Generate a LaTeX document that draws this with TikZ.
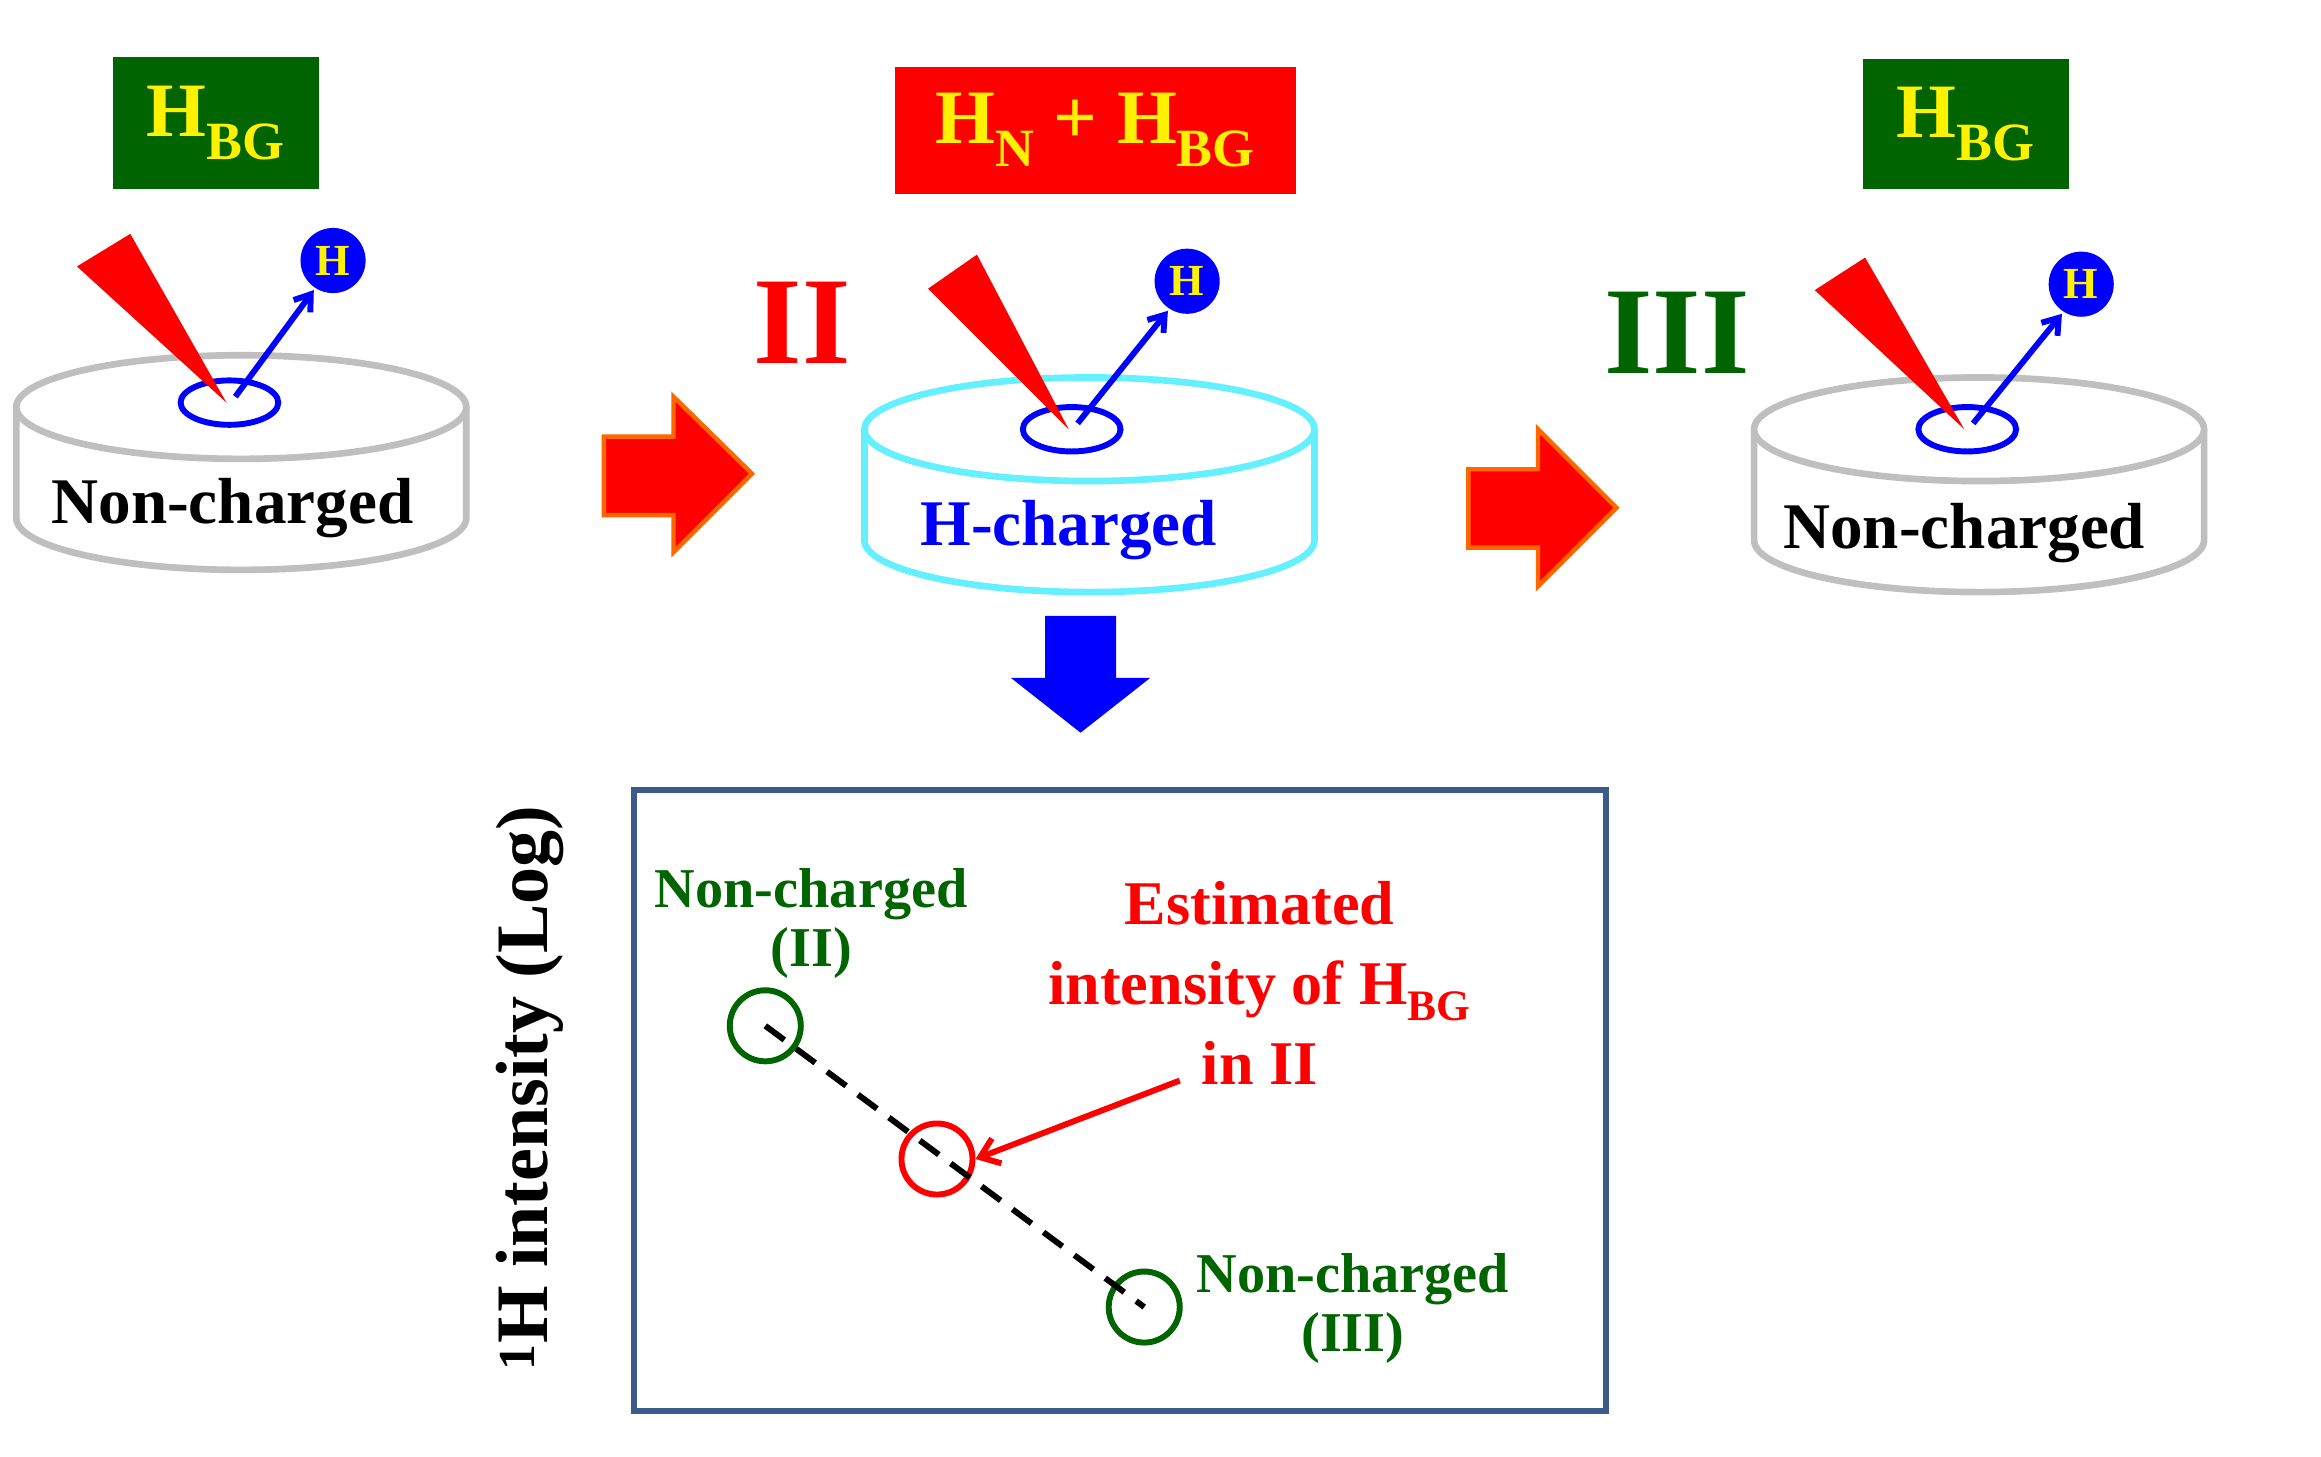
\documentclass[tikz,border=0pt]{standalone}
\usetikzlibrary{arrows.meta}
\usepackage{fontspec}
\setmainfont{Liberation Serif}
\begin{document}
\begin{tikzpicture}[x=1pt,y=-1pt,
 txt/.style={font=\fontsize{44}{46}\selectfont\bfseries,inner sep=0pt},
 ltxt/.style={font=\fontsize{38}{40}\selectfont\bfseries,inner sep=0pt},
 tag/.style={font=\fontsize{52}{54}\selectfont\bfseries,text=yellow,inner sep=0pt},
 hc/.style={circle,fill=blue,minimum size=44pt,inner sep=0pt,text=yellow,font=\fontsize{30}{30}\selectfont\bfseries},
 fat/.style={fill=red,draw=orange!80!red,line width=3pt}]
\useasboundingbox (0,0) rectangle (1568,984);
\definecolor{dg}{RGB}{0,100,0}
\definecolor{bx}{RGB}{60,90,140}
\definecolor{cy}{RGB}{100,240,255}
% tags
\node[fill=dg,minimum width=139pt,minimum height=89pt,tag] (t1) at (146,83) {H\textsubscript{BG}};
\node[fill=red,minimum width=271pt,minimum height=86pt,tag] (t2) at (740,88) {H\textsubscript{N} + H\textsubscript{BG}};
\node[fill=dg,minimum width=139pt,minimum height=88pt,tag] (t3) at (1328,84) {H\textsubscript{BG}};
% disks
\foreach \cx/\ty/\col in {163/275/gray!50, 736/290/cy, 1337/290/gray!50}{
 \draw[\col,line width=4.5pt,fill=white] (\cx-152,\ty) -- (\cx-152,\ty+75) arc[start angle=180,end angle=0,x radius=152,y radius=35] -- (\cx+152,\ty);
 \draw[\col,line width=4.5pt,fill=white] (\cx,\ty) ellipse[x radius=152,y radius=35];
}
\node[txt] (d1) at (157,343) {Non-charged};
\node[txt,text=blue] (d2) at (722,358) {H-charged};
\node[txt] (d3) at (1327,360) {Non-charged};
% beams and H
\foreach \tx/\ty/\ax/\ay/\bx/\by/\hx/\hy in {153/272/52/180/88/158/225/176, 722/290/627/195/660/172/802/190, 1327/290/1226/196/1260/174/1406/192}{
 \draw[blue,line width=4pt] (\tx+2,\ty) ellipse[x radius=33,y radius=15];
 \fill[red] (\tx,\ty) -- (\ax,\ay) -- (\bx,\by) -- cycle;
 \draw[blue,line width=4pt,-{Straight Barb[length=10pt,width=14pt]}] (\tx+6,\ty-4) -- (\hx-13,\hy+20);
 \node[hc] at (\hx,\hy) {H};
}
\node[font=\fontsize{84}{84}\selectfont\bfseries,text=red] (r2) at (542,218) {II};
\node[font=\fontsize{84}{84}\selectfont\bfseries,text=dg] (r3) at (1133,225) {III};
% fat arrows
\draw[fat] (408,295) -- (455,295) -- (455,268) -- (508,320) -- (455,373) -- (455,348) -- (408,348) -- cycle;
\draw[fat] (992,317) -- (1039,317) -- (1039,290) -- (1092,343) -- (1039,396) -- (1039,370) -- (992,370) -- cycle;
\fill[blue] (706,416) -- (754,416) -- (754,458) -- (777,458) -- (730,495) -- (683,458) -- (706,458) -- cycle;
% plot
\draw[bx,line width=4pt] (428,534) rectangle (1085,953);
\node[rotate=90,font=\fontsize{50}{52}\selectfont\bfseries] (yl) at (358,735) {\textsuperscript{1}H intensity (Log)};
\node[circle,draw=dg,line width=4pt,minimum size=48pt] (c1) at (517,693) {};
\node[circle,draw=red,line width=4pt,minimum size=48pt] (c2) at (633,783) {};
\node[circle,draw=dg,line width=4pt,minimum size=48pt] (c3) at (773,883) {};
\draw[line width=4pt,dash pattern=on 16pt off 10pt] (c1.center) -- (c3.center);
\node[ltxt,text=dg,align=center] (l1) at (548,624) {Non-charged\\(II)};
\node[ltxt,text=dg,align=center] (l3) at (914,884) {Non-charged\\(III)};
\node[ltxt,text=red,align=center,font=\fontsize{42}{54}\selectfont\bfseries] (es) at (851,664) {Estimated\\intensity of H\textsubscript{BG}\\in II};
\coordinate (as) at (797,730);
\draw[red,line width=4pt,-{Straight Barb[length=12pt,width=18pt]}] (as) -- (c2.east);
\end{tikzpicture}
\end{document}
